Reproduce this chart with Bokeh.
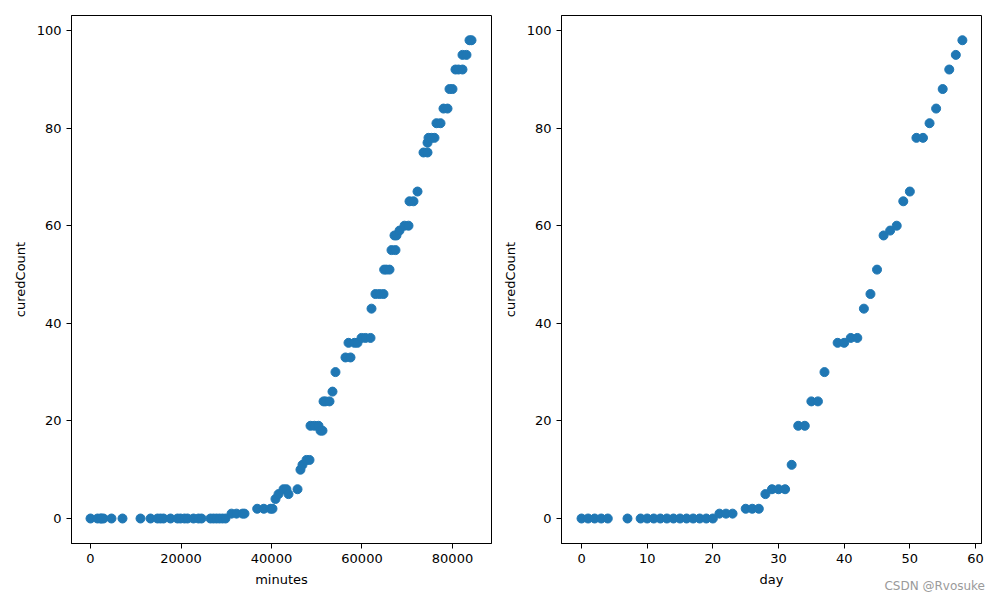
from bokeh.plotting import figure
from bokeh.layouts import row, column
from bokeh.models import Range1d, FixedTicker, BasicTickFormatter, Div
from bokeh.embed import file_html
from bokeh.resources import INLINE

# Left panel: cured count vs minutes since start
minutes = [0, 1550, 2210, 2430, 2870, 4640, 7070, 11050, 13260, 14810, 15470, 16130,
           17680, 19230, 19890, 20770, 21440, 22760, 23870, 24530, 26520, 27180, 27850,
           28510, 29170, 29830,
           31160, 32270, 33590, 34030,
           36840, 38300, 39780, 40220,
           40880, 41550, 42650, 43300, 43760, 45750, 46400, 46850, 47730, 48400,
           48620, 49500, 50390, 50830, 51270, 51500, 51930, 52820, 53480, 54140,
           56350, 57460, 57020, 58340, 59000, 59890, 60770, 61880, 62100,
           62980, 63870, 64750, 64900, 65410, 66080, 66520, 67400, 67180, 67620,
           68290, 69390, 70280, 70500, 71380, 72270, 73590, 74480, 74480, 74700,
           75360, 76020, 76460, 77350, 78010, 78900, 79340, 80000, 80660, 81330,
           82210, 82210, 83090, 83760, 84200]
cured_by_minute = [0, 0, 0, 0, 0, 0, 0, 0, 0, 0, 0, 0,
                   0, 0, 0, 0, 0, 0, 0, 0, 0, 0, 0,
                   0, 0, 0,
                   1, 1, 1, 1,
                   2, 2, 2, 2,
                   4, 5, 6, 6, 5, 6, 10, 11, 12, 12,
                   19, 19, 19, 18, 18, 24, 24, 24, 26, 30,
                   33, 33, 36, 36, 36, 37, 37, 37, 43,
                   46, 46, 46, 51, 51, 51, 55, 55, 58, 58,
                   59, 60, 60, 65, 65, 67, 75, 75, 77, 78,
                   78, 78, 81, 81, 84, 84, 88, 88, 92, 92,
                   92, 95, 95, 98, 98]

# Right panel: cured count vs day
days = [0, 1, 2, 3, 4, 7, 9, 10, 11, 12, 13, 14, 15, 16, 17, 18, 19, 20,
        21, 22, 23, 25, 26, 27, 28, 29, 30, 31, 32, 33, 34, 35, 36, 37,
        39, 40, 41, 42, 43, 44, 45, 46, 47, 48, 49, 50, 51, 52, 53, 54,
        55, 56, 57, 58]
cured_by_day = [0, 0, 0, 0, 0, 0, 0, 0, 0, 0, 0, 0, 0, 0, 0, 0, 0, 0,
                1, 1, 1, 2, 2, 2, 5, 6, 6, 6, 11, 19, 19, 24, 24, 30,
                36, 36, 37, 37, 43, 46, 51, 58, 59, 60, 65, 67, 78, 78, 81, 84,
                88, 92, 95, 98]

left_xticks = [0, 20000, 40000, 60000, 80000]
right_xticks = [0, 10, 20, 30, 40, 50, 60]
yticks = [0, 20, 40, 60, 80, 100]

FONT = "DejaVu Sans"
BLUE = "#1f77b4"


def style(p, xlabel, xticks):
    p.xgrid.visible = False
    p.ygrid.visible = False
    p.outline_line_color = "black"
    p.outline_line_width = 1
    p.outline_line_alpha = 1
    for ax in (p.xaxis[0], p.yaxis[0]):
        ax.axis_line_color = "black"
        ax.major_tick_line_color = "black"
        ax.major_tick_out = 5
        ax.major_tick_in = 0
        ax.minor_tick_line_color = None
        ax.major_label_text_font = FONT
        ax.major_label_text_font_size = "13px"
        ax.major_label_text_color = "black"
        ax.major_label_standoff = 5
        ax.axis_label_text_font = FONT
        ax.axis_label_text_font_size = "13px"
        ax.axis_label_text_font_style = "normal"
        ax.axis_label_text_color = "black"
        ax.axis_label_standoff = 6
    p.xaxis[0].ticker = FixedTicker(ticks=xticks)
    p.yaxis[0].ticker = FixedTicker(ticks=yticks)
    p.xaxis[0].formatter = BasicTickFormatter(use_scientific=False)
    p.xaxis[0].axis_label = xlabel
    p.yaxis[0].axis_label = "curedCount"


p1 = figure(width=499, height=590, output_backend="svg", toolbar_location=None,
            x_range=Range1d(-4200, 88620), y_range=Range1d(-5.12, 103.07),
            min_border_left=71, min_border_right=8, min_border_top=15,
            min_border_bottom=47, background_fill_color="white")
p1.scatter(minutes, cured_by_minute, size=9, color=BLUE)
style(p1, "minutes", left_xticks)

p2 = figure(width=492, height=590, output_backend="svg", toolbar_location=None,
            x_range=Range1d(-3.05, 60.91), y_range=Range1d(-5.12, 103.07),
            min_border_left=62, min_border_right=10, min_border_top=15,
            min_border_bottom=47, background_fill_color="white")
p2.scatter(days, cured_by_day, size=9, color=BLUE)
style(p2, "day", right_xticks)

watermark = Div(text="CSDN @Rvosuke", width=985, height=16, margin=(-12, 0, 0, 0),
                styles={"text-align": "right", "color": "#9a9a9a",
                        "font-family": FONT, "font-size": "12px",
                        "line-height": "16px"})

layout = column(row(p1, p2), watermark)
open("out.html", "w").write(file_html(layout, INLINE))
